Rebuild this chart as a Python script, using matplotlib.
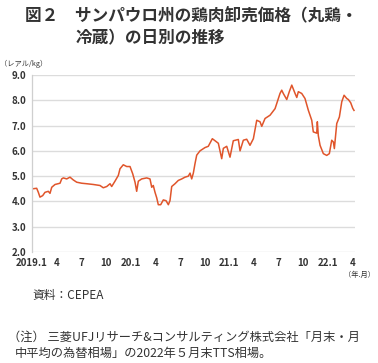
"""Sao Paulo whole chilled chicken wholesale price, daily (fig 2)."""
import matplotlib
matplotlib.use("Agg")
import matplotlib.pyplot as plt

plt.rcParams["font.family"] = ["Noto Sans CJK JP", "DejaVu Sans"]

# months elapsed since 2019.1 and price (BRL/kg)
months = [0.09, 0.57, 0.77, 0.97, 1.30, 1.58, 1.98, 2.19, 2.40, 2.80,
          3.41, 3.61, 3.81, 4.22, 4.62, 5.02, 5.44, 6.04, 6.65, 7.46,
          8.27, 8.67, 9.09, 9.49, 9.69, 10.09, 10.50, 10.70, 11.10, 11.52,
          11.92, 12.25, 12.53, 12.73, 12.93, 13.34, 13.95, 14.35, 14.56, 14.75,
          14.96, 15.17, 15.36, 15.65, 15.97, 16.30, 16.58, 16.78, 16.99, 17.39,
          17.79, 18.21, 18.61, 19.01, 19.22, 19.42, 19.62, 19.82, 20.03, 20.43,
          21.04, 21.44, 21.93, 22.26, 22.66, 23.07, 23.27, 23.68, 24.08, 24.48,
          25.09, 25.30, 25.70, 26.11, 26.51, 26.92, 27.33, 27.73, 27.94, 28.34,
          28.95, 29.56, 29.76, 30.16, 30.37, 30.56, 30.98, 31.29, 31.59, 31.99,
          32.20, 32.39, 32.80, 33.20, 33.61, 34.02, 34.21, 34.63, 34.70, 34.82,
          35.03, 35.43, 35.84, 36.16, 36.45, 36.65, 36.77, 37.06, 37.38, 37.67,
          37.95, 38.28, 38.47, 38.76, 39.01, 39.16]
price = [4.50, 4.52, 4.36, 4.17, 4.23, 4.36, 4.40, 4.32, 4.56, 4.67,
         4.72, 4.89, 4.93, 4.89, 4.96, 4.85, 4.76, 4.72, 4.70, 4.67,
         4.63, 4.54, 4.59, 4.70, 4.59, 4.80, 5.03, 5.29, 5.45, 5.38,
         5.38, 5.09, 4.76, 4.40, 4.80, 4.89, 4.93, 4.89, 4.56, 4.63,
         4.36, 4.14, 3.87, 3.87, 4.06, 4.03, 3.87, 4.03, 4.59, 4.70,
         4.83, 4.89, 4.96, 5.00, 5.12, 4.89, 5.12, 5.49, 5.83, 6.00,
         6.13, 6.18, 6.48, 6.40, 6.30, 5.69, 6.10, 6.18, 5.75, 6.40,
         6.45, 6.00, 6.42, 6.46, 6.22, 6.48, 7.21, 7.15, 6.97, 7.28,
         7.41, 7.67, 7.87, 8.27, 8.40, 8.27, 8.03, 8.34, 8.60, 8.27,
         8.11, 8.34, 8.27, 8.07, 7.60, 7.21, 6.75, 6.70, 7.15, 6.60,
         6.22, 5.89, 5.82, 5.89, 6.42, 6.35, 6.09, 7.08, 7.34, 7.94,
         8.20, 8.07, 8.03, 7.90, 7.68, 7.60]

tick_pos = list(range(0, 40, 3))
tick_labels = ["2019.1", "4", "7", "10", "20.1", "4", "7", "10",
               "21.1", "4", "7", "10", "22.1", "4"]
yticks = [2.0, 3.0, 4.0, 5.0, 6.0, 7.0, 8.0, 9.0]

TXT = "#333333"

fig = plt.figure(figsize=(3.78, 3.63), dpi=100)
ax = fig.add_axes([32 / 378, 1 - 252 / 363, 323 / 378, 177 / 363])

ax.plot(months, price, color="#E0552B", lw=1.1, solid_joinstyle="round")

ax.set_xlim(0, 39.28)
ax.set_ylim(2.0, 9.0)
ax.set_yticks(yticks)
ax.set_yticklabels([f"{v:.1f}" for v in yticks])
ax.set_xticks(tick_pos)
ax.set_xticklabels(tick_labels)
ax.tick_params(length=0, labelsize=7, labelcolor=TXT, pad=4)
for lab in ax.get_xticklabels() + ax.get_yticklabels():
    lab.set_fontweight("bold")
ax.grid(axis="y", color="#DCDCDC", lw=1.0)
ax.set_axisbelow(True)
for s in ["top", "right", "bottom"]:
    ax.spines[s].set_visible(False)
ax.spines["left"].set_color("#CFCFCF")
ax.spines["left"].set_linewidth(0.9)

# titles and notes
fig.text(25 / 378, 1 - 15 / 363, "図２　サンパウロ州の鶏肉卸売価格（丸鶏・",
         fontsize=12, fontweight="bold", color=TXT, va="center")
fig.text(76 / 378, 1 - 38 / 363, "冷蔵）の日別の推移",
         fontsize=12, fontweight="bold", color=TXT, va="center")
fig.text(0.0, 1 - 64 / 363, "（レアル/kg）", fontsize=5.2, color=TXT,
         va="center")
fig.text(375 / 378, 1 - 275 / 363, "（年.月）", fontsize=5.2, color=TXT,
         va="center", ha="right")
fig.text(32 / 378, 1 - 295 / 363, "資料：CEPEA", fontsize=8.5, color=TXT,
         va="center")
fig.text(8 / 378, 1 - 337 / 363,
         "（注） 三菱UFJリサーチ&コンサルティング株式会社「月末・月",
         fontsize=8.8, color=TXT, va="center")
fig.text(15 / 378, 1 - 353 / 363, "中平均の為替相場」の2022年５月末TTS相場。",
         fontsize=8.8, color=TXT, va="center")

fig.savefig("out.png", dpi=100, facecolor="white")
